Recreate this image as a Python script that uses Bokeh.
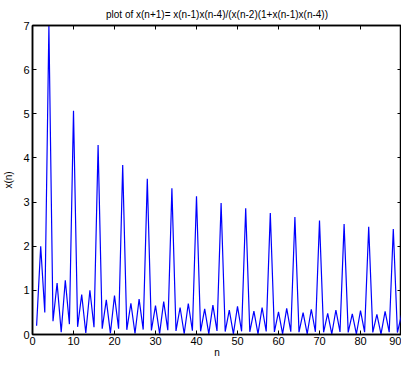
from bokeh.plotting import figure
from bokeh.models import LinearAxis, Range1d, FixedTicker, Title
from bokeh.embed import file_html
from bokeh.resources import INLINE

n_values = list(range(1, 91))
x_values = [
    0.2, 2.0, 0.5, 7.0, 0.3, 1.167,
    0.054, 1.228, 0.234, 5.07, 0.174, 0.907,
    0.035, 1.003, 0.165, 4.29, 0.130, 0.784,
    0.027, 0.882, 0.132, 3.84, 0.106, 0.708,
    0.023, 0.803, 0.112, 3.53, 0.091, 0.653,
    0.020, 0.746, 0.098, 3.31, 0.080, 0.612,
    0.017, 0.702, 0.087, 3.13, 0.072, 0.580,
    0.016, 0.667, 0.080, 2.98, 0.066, 0.553,
    0.015, 0.637, 0.073, 2.86, 0.061, 0.531,
    0.013, 0.612, 0.068, 2.75, 0.057, 0.511,
    0.013, 0.591, 0.064, 2.66, 0.053, 0.494,
    0.012, 0.572, 0.060, 2.58, 0.050, 0.479,
    0.011, 0.555, 0.057, 2.50, 0.048, 0.466,
    0.011, 0.540, 0.054, 2.44, 0.046, 0.454,
    0.010, 0.526, 0.052, 2.39, 0.044, 0.443,
]
x_ticks = [0, 10, 20, 30, 40, 50, 60, 70, 80, 90]
y_ticks = [0, 1, 2, 3, 4, 5, 6, 7]
title_text = "plot of x(n+1)= x(n-1)x(n-4)/(x(n-2)(1+x(n-1)x(n-4))"

FONT = "Liberation Sans"

p = figure(width=401, height=360, output_backend="svg", toolbar_location=None,
           x_range=Range1d(0, 90), y_range=Range1d(0, 7),
           min_border_left=4, min_border_right=0, min_border_top=25, min_border_bottom=0)
p.title = Title(text=title_text, align="center", text_font=FONT,
                text_font_size="10px", text_font_style="normal", offset=0,
                standoff=11, text_color="black")
p.background_fill_color = "white"
p.border_fill_color = "white"
p.xgrid.visible = False
p.ygrid.visible = False
p.outline_line_color = "black"
p.outline_line_width = 1.5

p.line(n_values, x_values, line_color="#0000FF", line_width=1.2)

p.xaxis.axis_label = "n"
p.yaxis.axis_label = "x(n)"
p.xaxis.major_label_standoff = 2
p.yaxis.major_label_standoff = 3
p.xaxis.axis_label_standoff = -1
p.yaxis.axis_label_standoff = 6

top_ax = LinearAxis()
right_ax = LinearAxis()
p.add_layout(top_ax, "above")
p.add_layout(right_ax, "right")

for ax in p.xaxis:
    ax.ticker = FixedTicker(ticks=x_ticks)
for ax in p.yaxis:
    ax.ticker = FixedTicker(ticks=y_ticks)

for ax in [p.below[0], p.left[0]]:
    ax.major_tick_in = 4
    ax.major_tick_out = 0
    ax.minor_tick_in = 0
    ax.minor_tick_out = 0
    ax.axis_line_color = "black"
    ax.axis_line_width = 1.5
    ax.major_tick_line_color = "black"
    ax.major_label_text_font = FONT
    ax.major_label_text_font_size = "11px"
    ax.major_label_text_color = "black"
    ax.axis_label_text_font = FONT
    ax.axis_label_text_font_size = "10px"
    ax.axis_label_text_font_style = "normal"
    ax.axis_label_text_color = "black"

top_ax.major_label_overrides = {t: "" for t in x_ticks}
right_ax.major_label_overrides = {t: "" for t in y_ticks}
for ax in [top_ax, right_ax]:
    ax.major_tick_in = 4
    ax.major_tick_out = 0
    ax.minor_tick_in = 0
    ax.minor_tick_out = 0
    ax.axis_line_color = "black"
    ax.axis_line_width = 1.5
    ax.major_tick_line_color = "black"
    ax.major_label_text_font_size = "1px"
    ax.major_label_standoff = 0
    ax.axis_label_standoff = 0

with open("out.html", "w") as f:
    f.write(file_html(p, INLINE))
